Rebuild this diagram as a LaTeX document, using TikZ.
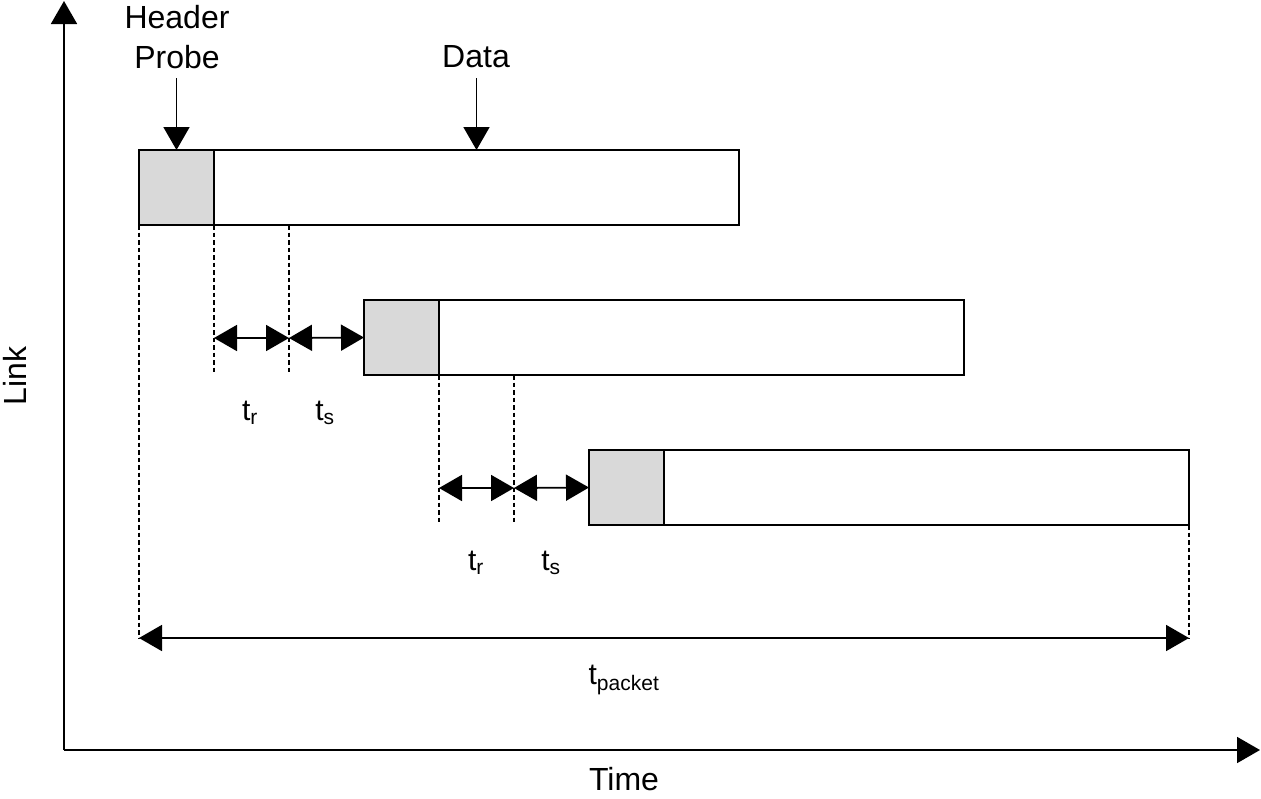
\documentclass[tikz,border=0pt]{standalone}
\usepackage{fontspec}
\setmainfont{Liberation Sans}
\usetikzlibrary{arrows.meta}
\begin{document}
\begin{tikzpicture}[x=1pt,y=-1pt,
  txt/.style={font=\fontsize{32}{40}\selectfont, inner sep=0pt},
  lbl/.style={txt, align=center},
  sublbl/.style={font=\fontsize{30}{36}\selectfont, inner sep=0pt},
  hdr/.style={draw, line width=1.8pt, fill=black!15, minimum width=75pt, minimum height=75pt, inner sep=0pt, outer sep=0pt},
  dat/.style={draw, line width=1.8pt, fill=white, minimum width=525pt, minimum height=75pt, inner sep=0pt, outer sep=0pt},
  axis/.style={line width=1.8pt, -{Triangle[length=23pt,width=26pt]}},
  arr/.style={line width=1.8pt, -{Triangle[length=23pt,width=26pt]}},
  dbl/.style={line width=1.8pt, {Triangle[length=23pt,width=26pt]}-{Triangle[length=23pt,width=26pt]}},
  guide/.style={line width=1.4pt, dash pattern=on 4.5pt off 3pt}]
\useasboundingbox (0,0) rectangle (1261,798);

% axes
\coordinate (org) at (64,750);
\coordinate (ytop) at (64,1);
\coordinate (xend) at (1260,750);
\draw[axis] (org) -- (ytop);
\draw[axis] (org) -- (xend);
\node[txt, rotate=90] (linklbl) at (15,376) {Link};
\node[txt] (timelbl) at (624,779) {Time};

% packets: header probe + data
\node[hdr] (h1) at (176.5,187.5) {};
\node[dat] (d1) at (476.5,187.5) {};
\node[hdr] (h2) at (401.5,337.5) {};
\node[dat] (d2) at (701.5,337.5) {};
\node[hdr] (h3) at (626.5,487.5) {};
\node[dat] (d3) at (926.5,487.5) {};
\draw[line width=1.8pt] (h1.north west) rectangle (h1.south east);
\draw[line width=1.8pt] (h2.north west) rectangle (h2.south east);
\draw[line width=1.8pt] (h3.north west) rectangle (h3.south east);

% labels on top
\node[lbl] (hplbl) at (177,37) {Header\\Probe};
\node[txt] (datalbl) at (476,57) {Data};
\coordinate (hpa) at (176.5,78);
\coordinate (dta) at (476.5,78);
\draw[arr] (hpa) -- (h1.north);
\draw[arr] (dta) -- (d1.north);

% guide lines
\coordinate (p0) at (139,638);
\coordinate (p1) at (1189,638);
\coordinate (a1) at (214,375);
\coordinate (b1t) at (289,225);
\coordinate (b1) at (289,375);
\coordinate (a2) at (439,525);
\coordinate (b2t) at (514,375);
\coordinate (b2) at (514,525);
\draw[guide] (h1.south west) -- (p0);
\draw[guide] (h1.south east) -- (a1);
\draw[guide] (b1t) -- (b1);
\draw[guide] (h2.south east) -- (a2);
\draw[guide] (b2t) -- (b2);
\draw[guide] (d3.south east) -- (p1);

% delay arrows
\coordinate (r1l) at (214,338);
\coordinate (r1m) at (289,338);
\coordinate (r2l) at (439,488);
\coordinate (r2m) at (514,488);
\draw[dbl] (r1l) -- (r1m);
\draw[dbl] (r1m) -- (h2.west);
\draw[dbl] (r2l) -- (r2m);
\draw[dbl] (r2m) -- (h3.west);
\draw[dbl] (p0) -- (p1);

% delay labels
\node[sublbl] (tr1) at (250,413) {t\textsubscript{r}};
\node[sublbl] (ts1) at (325,413) {t\textsubscript{s}};
\node[sublbl] (tr2) at (476,563) {t\textsubscript{r}};
\node[sublbl] (ts2) at (551,563) {t\textsubscript{s}};
\node[sublbl] (tpk) at (624,680) {t\textsubscript{packet}};
\end{tikzpicture}
\end{document}
